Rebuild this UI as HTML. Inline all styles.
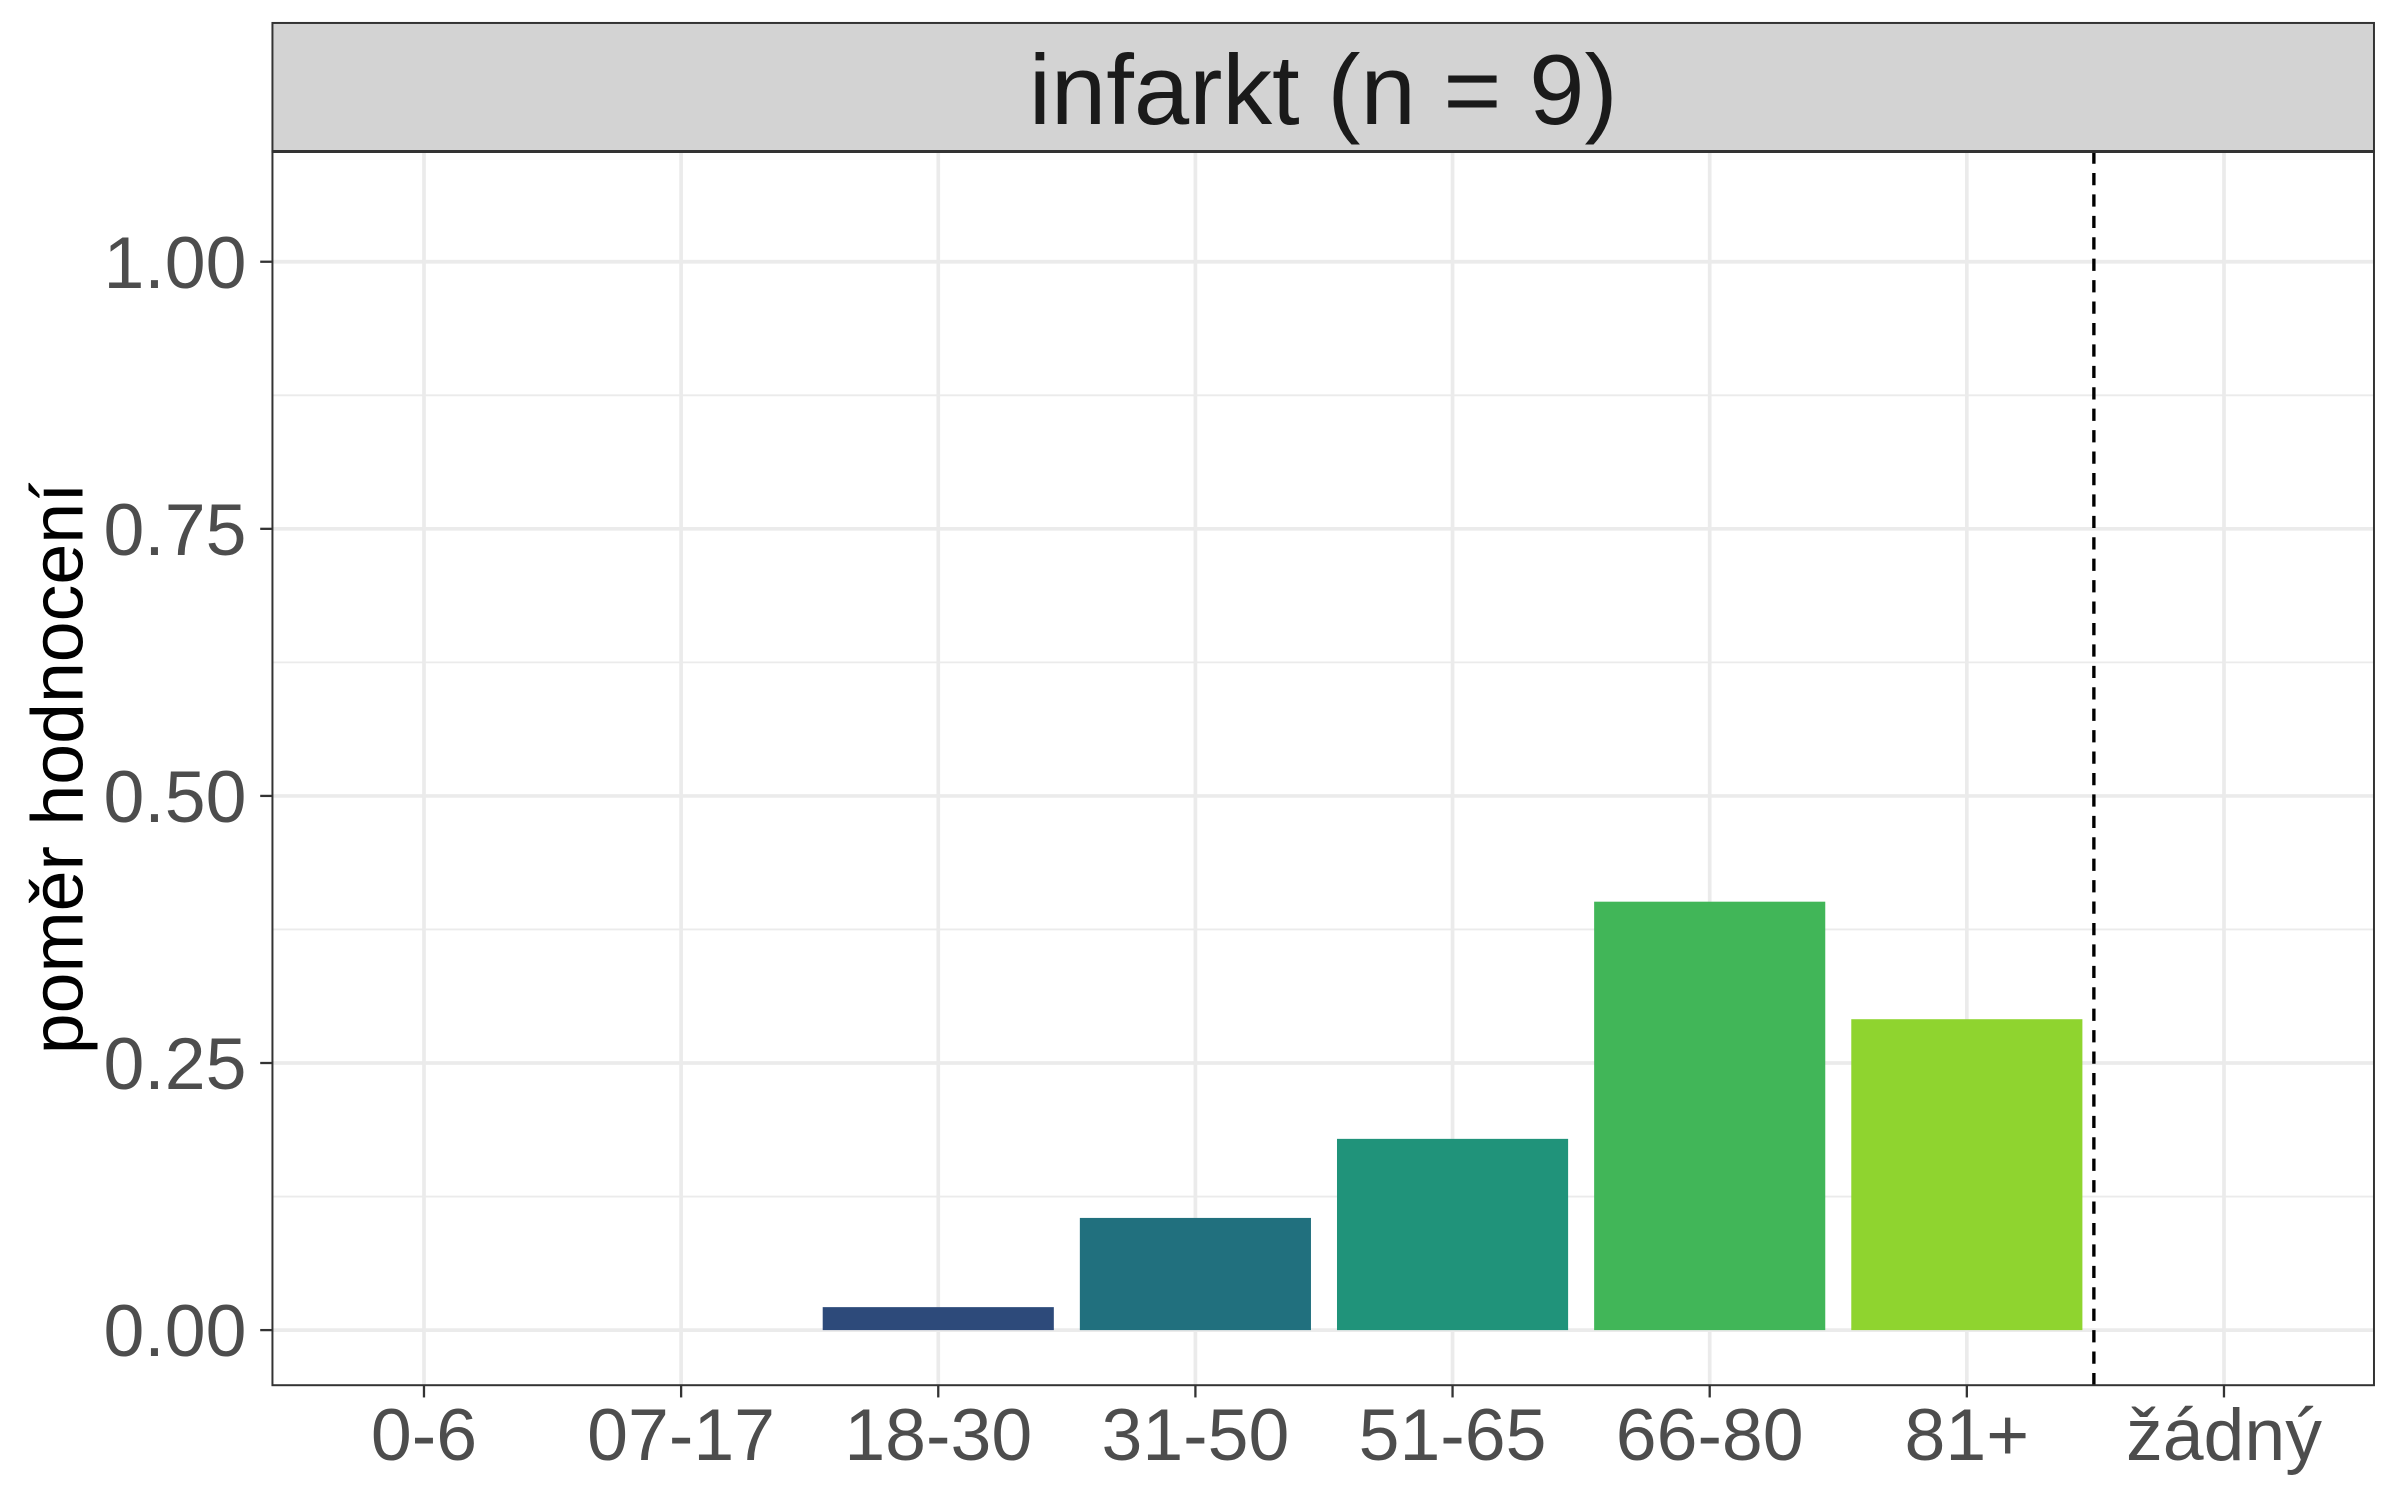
<!DOCTYPE html>
<html><head><meta charset="utf-8"><style>html,body{margin:0;padding:0;background:#fff}svg{display:block}</style></head>
<body>
<svg id="chart" width="2400" height="1500" viewBox="0 0 1568 980" preserveAspectRatio="none" xmlns="http://www.w3.org/2000/svg" font-family="Liberation Sans, Arial, sans-serif">
<rect x="0" y="0" width="1568" height="980" fill="#fff"/>
<g id="grid"></g>
<g id="bars"></g>
<line x1="1368" x2="1368" y1="99" y2="905" stroke="#000" stroke-width="2.2" stroke-dasharray="8,6"/>
<rect x="178" y="99" width="1373" height="806" fill="none" stroke="#333" stroke-width="1.3"/>
<rect x="178" y="15" width="1373" height="84" fill="#d3d3d3" stroke="#333" stroke-width="1.3"/>
<line x1="178" x2="1551" y1="99" y2="99" stroke="#333" stroke-width="2"/>
<text x="864.5" y="81" text-anchor="middle" font-size="65" fill="#1a1a1a">infarkt (n = 9)</text>
<g id="axes"></g>
<text transform="translate(54,502) rotate(-90)" text-anchor="middle" font-size="48" fill="#000">poměr hodnocení</text>
</svg>
<script>
const categories = ["0-6","07-17","18-30","31-50","51-65","66-80","81+","žádný"];
const values = [0, 0, 0.0215, 0.105, 0.179, 0.401, 0.291, 0];
const colors = ["#440154","#3b528b","#2d4a7a","#21707e","#20937a","#41b658","#8fd42f","#fde725"];
const yTicks = [0, 0.25, 0.5, 0.75, 1.0];
const yTickLabels = ["0.00","0.25","0.50","0.75","1.00"];
const yMinor = [0.125, 0.375, 0.625, 0.875];

const NS = "http://www.w3.org/2000/svg";
const y = v => 869 - v * 698;
const x = i => 277 + i * 168;
const bw = 151;
function mk(tag, attrs, parent){const e=document.createElementNS(NS,tag);for(const k in attrs)e.setAttribute(k,attrs[k]);parent.appendChild(e);return e;}
const grid = document.getElementById('grid'), bars = document.getElementById('bars'), axes = document.getElementById('axes');
yMinor.forEach(v=>{const l=mk('line',{x1:178,x2:1551,y1:y(v),y2:y(v),stroke:'#ebebeb','stroke-width':1.2},grid);

});
yTicks.forEach((v,i)=>{const l=mk('line',{x1:178,x2:1551,y1:y(v),y2:y(v),stroke:'#ebebeb','stroke-width':2.4},grid);


const t=mk('line',{x1:170,x2:178,y1:y(v),y2:y(v),stroke:'#333','stroke-width':1.5},axes);


const tx=mk('text',{x:161,y:y(v)+17,'text-anchor':'end','font-size':48,fill:'#4d4d4d'},axes);tx.textContent=yTickLabels[i];

});
categories.forEach((c,i)=>{const l=mk('line',{x1:x(i),x2:x(i),y1:99,y2:905,stroke:'#ebebeb','stroke-width':2.4},grid);


if(values[i]>0){const b=mk('rect',{x:x(i)-bw/2,y:y(values[i]),width:bw,height:y(0)-y(values[i]),fill:colors[i]},bars);

}
const t=mk('line',{x1:x(i),x2:x(i),y1:905,y2:913,stroke:'#333','stroke-width':1.5},axes);


const tx=mk('text',{x:x(i),y:954,'text-anchor':'middle','font-size':48,fill:'#4d4d4d'},axes);tx.textContent=c;

});
</script>
</body></html>
